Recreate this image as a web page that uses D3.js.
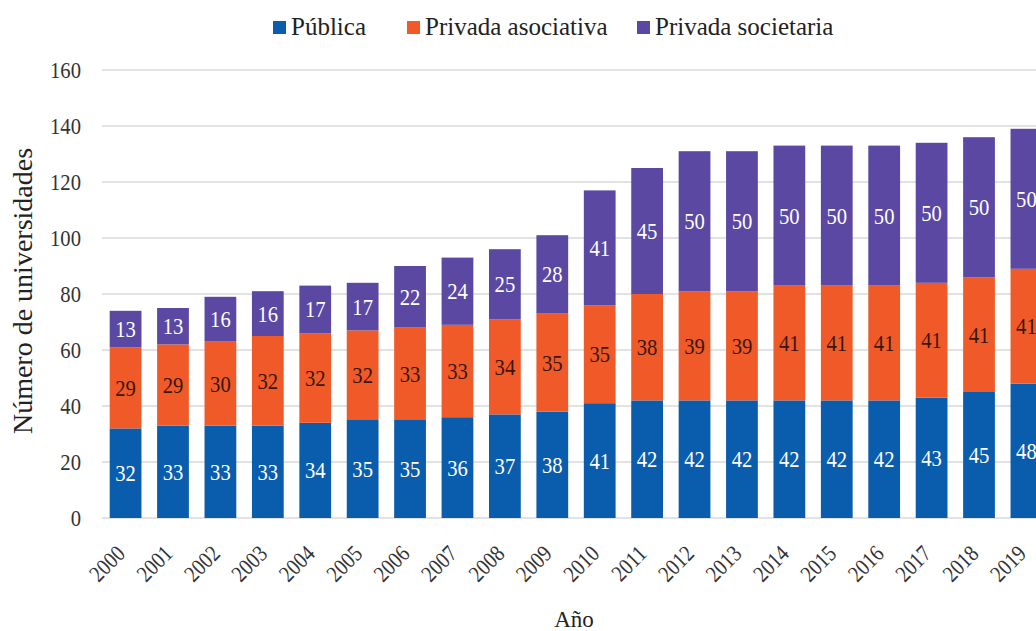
<!DOCTYPE html>
<html>
<head>
<meta charset="utf-8">
<script src="https://cdn.jsdelivr.net/npm/d3@7"></script>
<style>
  html, body { margin: 0; padding: 0; background: #fff; overflow: hidden; }
  svg { display: block; }
</style>
</head>
<body>
<svg id="chart" width="1036" height="631"></svg>
<script>
const years = ["2000","2001","2002","2003","2004","2005","2006","2007","2008","2009",
               "2010","2011","2012","2013","2014","2015","2016","2017","2018","2019"];
const publica    = [32,33,33,33,34,35,35,36,37,38,41,42,42,42,42,42,42,43,45,48];
const asociativa = [29,29,30,32,32,32,33,33,34,35,35,38,39,39,41,41,41,41,41,41];
const societaria = [13,13,16,16,17,17,22,24,25,28,41,45,50,50,50,50,50,50,50,50];
const seriesNames = ["Pública","Privada asociativa","Privada societaria"];
const seriesKeys = ["publica","asociativa","societaria"];
const colors = ["#0a5cad","#ef5a28","#5a48a2"];
const labelColors = ["#ffffff","#3b160c","#ffffff"];
const yTicks = [0,20,40,60,80,100,120,140,160];

const FONT = "'Liberation Serif', 'Times New Roman', serif";
const SX = 0.86; // horizontal condensing to mimic the narrow serif of the original
const table = years.map((y,i) => ({year:y, publica:publica[i], asociativa:asociativa[i], societaria:societaria[i]}));

const svg = d3.select("#chart");
const W = 1036, H = 631;

const y = d3.scaleLinear().domain([0,160]).range([518, 70]);
const x = d3.scaleBand().domain(years).range([95, 1057]).paddingInner(0.33).paddingOuter(0.31);

// gridlines
svg.append("g").selectAll("line").data(yTicks).join("line")
  .attr("x1", 102).attr("x2", W)
  .attr("y1", d => y(d)).attr("y2", d => y(d))
  .attr("stroke", "#d9d9d9").attr("stroke-width", 1.3);

// y tick labels
const yAxis = d3.axisLeft(y).tickValues(yTicks).tickSize(0).tickPadding(0);
const gy = svg.append("g").call(yAxis);
gy.select(".domain").remove();
gy.attr("font-family", null).attr("font-size", null);
gy.selectAll(".tick").attr("transform", d => `translate(81,${y(d)}) scale(${SX},1)`);
gy.selectAll("text").attr("fill", "#333").attr("x", 0)
  .style("font-family", FONT).style("font-size", "24px");

// stacked bars
const stack = d3.stack().keys(seriesKeys)(table);
const layers = svg.append("g").selectAll("g").data(stack).join("g")
  .attr("fill", (d,i) => colors[i]);
layers.selectAll("rect").data(d => d).join("rect")
  .attr("x", d => x(d.data.year))
  .attr("width", x.bandwidth())
  .attr("y", d => y(d[1]))
  .attr("height", d => y(d[0]) - y(d[1]));

// value labels
stack.forEach((layer, i) => {
  svg.append("g").selectAll("text").data(layer).join("text")
    .attr("transform", d => `translate(${x(d.data.year) + x.bandwidth()/2},${(y(d[0]) + y(d[1]))/2}) scale(${SX},1)`)
    .attr("dy", "0.33em")
    .attr("text-anchor", "middle")
    .style("font-family", FONT).style("font-size", "24px")
    .attr("fill", labelColors[i])
    .text(d => d[1] - d[0]);
});

// x tick labels
const xAxis = d3.axisBottom(x).tickSize(0).tickPadding(0);
const gx = svg.append("g").call(xAxis);
gx.select(".domain").remove();
gx.attr("font-family", null).attr("font-size", null);
gx.selectAll(".tick").attr("transform", d => `translate(${x(d) + x.bandwidth()/2 + 1},555) rotate(-45) scale(${SX},1)`);
gx.selectAll("text")
  .style("font-family", FONT).style("font-size", "23px")
  .attr("fill", "#333")
  .attr("text-anchor", "end")
  .attr("y", 0).attr("dy", 0).attr("dx", 0);

// axis titles
svg.append("text").attr("x", 574).attr("y", 627).attr("text-anchor", "middle")
  .style("font-family", FONT).style("font-size", "23px").attr("fill", "#222").text("Año");
svg.append("text").attr("transform", "translate(32,291) rotate(-90)")
  .attr("text-anchor", "middle")
  .style("font-family", FONT).style("font-size", "28px").attr("fill", "#222")
  .text("Número de universidades");

// legend
const legendX = [273, 407, 637];
const lg = svg.append("g");
seriesNames.forEach((name, i) => {
  lg.append("rect").attr("x", legendX[i]).attr("y", 21).attr("width", 13).attr("height", 13)
    .attr("fill", colors[i]);
  lg.append("text").attr("x", legendX[i] + 18).attr("y", 35)
    .style("font-family", FONT).style("font-size", "25px").attr("fill", "#222").text(name);
});
</script>
</body>
</html>
